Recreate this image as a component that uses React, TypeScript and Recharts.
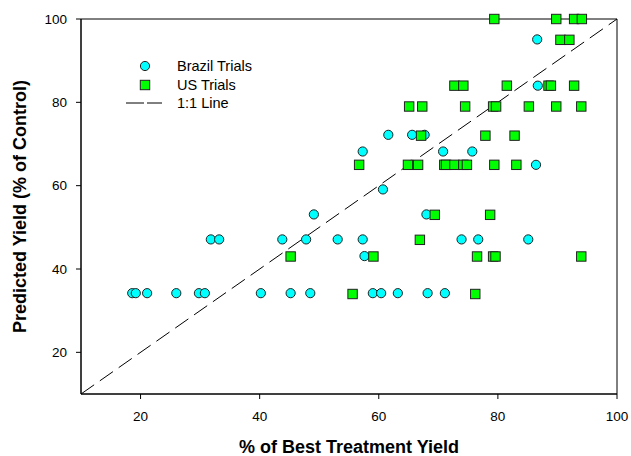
import React from 'react';
import {
  ScatterChart, Scatter, XAxis, YAxis, ReferenceLine, ReferenceArea, Legend,
} from 'recharts';

// x = % of best treatment yield, y = predicted yield (% of control)
const BRAZIL_TRIALS = [
  { x: 18.6, y: 34.2 }, { x: 19.2, y: 34.2 }, { x: 21.1, y: 34.2 }, { x: 26.0, y: 34.2 },
  { x: 29.8, y: 34.2 }, { x: 30.8, y: 34.2 }, { x: 40.2, y: 34.2 }, { x: 45.2, y: 34.2 },
  { x: 48.5, y: 34.2 }, { x: 59.0, y: 34.2 }, { x: 60.4, y: 34.2 }, { x: 63.2, y: 34.2 },
  { x: 68.2, y: 34.2 }, { x: 71.1, y: 34.2 },
  { x: 57.6, y: 43.1 },
  { x: 31.8, y: 47.1 }, { x: 33.2, y: 47.1 }, { x: 43.8, y: 47.1 }, { x: 47.8, y: 47.1 },
  { x: 53.1, y: 47.1 }, { x: 57.3, y: 47.1 }, { x: 73.9, y: 47.1 }, { x: 76.7, y: 47.1 },
  { x: 85.1, y: 47.1 },
  { x: 49.1, y: 53.1 }, { x: 68.0, y: 53.1 },
  { x: 60.7, y: 59.1 },
  { x: 65.5, y: 65.0 }, { x: 86.4, y: 65.0 },
  { x: 57.3, y: 68.2 }, { x: 70.8, y: 68.2 }, { x: 75.7, y: 68.2 },
  { x: 61.6, y: 72.2 }, { x: 65.6, y: 72.2 }, { x: 67.7, y: 72.2 },
  { x: 86.7, y: 84.0 },
  { x: 86.6, y: 95.1 },
];

const US_TRIALS = [
  { x: 55.6, y: 34.0 }, { x: 76.2, y: 34.0 },
  { x: 45.2, y: 43.0 }, { x: 59.1, y: 43.0 }, { x: 76.5, y: 43.0 }, { x: 79.2, y: 43.0 },
  { x: 79.6, y: 43.0 }, { x: 94.0, y: 43.0 },
  { x: 66.9, y: 47.0 },
  { x: 69.4, y: 53.0 }, { x: 78.7, y: 53.0 },
  { x: 56.7, y: 65.0 }, { x: 64.9, y: 65.0 }, { x: 66.6, y: 65.0 }, { x: 71.0, y: 65.0 },
  { x: 71.3, y: 65.0 }, { x: 72.7, y: 65.0 }, { x: 74.2, y: 65.0 }, { x: 74.8, y: 65.0 },
  { x: 79.4, y: 65.0 }, { x: 83.1, y: 65.0 },
  { x: 67.1, y: 72.0 }, { x: 77.9, y: 72.0 }, { x: 82.8, y: 72.0 },
  { x: 65.1, y: 79.0 }, { x: 67.3, y: 79.0 }, { x: 74.5, y: 79.0 }, { x: 79.2, y: 79.0 },
  { x: 79.7, y: 79.0 }, { x: 85.2, y: 79.0 }, { x: 89.8, y: 79.0 }, { x: 94.0, y: 79.0 },
  { x: 72.7, y: 84.0 }, { x: 74.2, y: 84.0 }, { x: 81.5, y: 84.0 }, { x: 88.5, y: 84.0 },
  { x: 88.9, y: 84.0 }, { x: 92.8, y: 84.0 },
  { x: 90.5, y: 95.0 }, { x: 92.0, y: 95.0 },
  { x: 79.4, y: 100 }, { x: 89.8, y: 100 }, { x: 92.8, y: 100 }, { x: 94.1, y: 100 },
];

const X_TICKS = [20, 40, 60, 80, 100];
const Y_TICKS = [20, 40, 60, 80, 100];
const ONE_TO_ONE = [{ x: 10, y: 10 }, { x: 100, y: 100 }];

const CYAN = '#00FFFF';
const GREEN = '#00FF00';
const OUTLINE = '#222';

const CircleDot = (props: any) => (
  <circle cx={props.cx} cy={props.cy} r={4.6} fill={CYAN} stroke={OUTLINE} strokeWidth={1} />
);

const SquareDot = (props: any) => (
  <rect x={props.cx - 4.7} y={props.cy - 4.7} width={9.4} height={9.4} fill={GREEN} stroke={OUTLINE} strokeWidth={1} />
);

const LEGEND_ITEMS = [
  { label: 'Brazil Trials', kind: 'circle' },
  { label: 'US Trials', kind: 'square' },
  { label: '1:1 Line', kind: 'line' },
];

const renderLegend = () => (
  <div style={{ fontSize: 14.5, color: '#000' }}>
    {LEGEND_ITEMS.map((item) => (
      <div key={item.label} style={{ display: 'flex', alignItems: 'center', height: 18.5 }}>
        <svg width={50} height={18}>
          {item.kind === 'circle' && <CircleDot cx={25} cy={9} />}
          {item.kind === 'square' && <SquareDot cx={25} cy={9} />}
          {item.kind === 'line' && (
            <line x1={6} y1={9} x2={42} y2={9} stroke="#000" strokeWidth={1} strokeDasharray="18 3" />
          )}
        </svg>
        <span style={{ marginLeft: 7 }}>{item.label}</span>
      </div>
    ))}
  </div>
);

const XTitle = ({ viewBox }: any) => (
  <text x={viewBox.x + viewBox.width / 2} y={viewBox.y + viewBox.height - 3}
    textAnchor="middle" fontSize={18} fontWeight="bold" fill="#000">
    % of Best Treatment Yield
  </text>
);

const YTitle = ({ viewBox }: any) => {
  const cx = 20;
  const cy = viewBox.y + viewBox.height / 2;
  return (
    <text x={cx} y={cy} dy="0.35em" transform={`rotate(-90, ${cx}, ${cy})`}
      textAnchor="middle" fontSize={18} fontWeight="bold" fill="#000">
      Predicted Yield (% of Control)
    </text>
  );
};

export default function App() {
  return (
    <div style={{ position: 'absolute', left: 0, top: 0, fontFamily: '"Liberation Sans", Arial, sans-serif', background: '#fff' }}>
      <ScatterChart width={631} height={456} margin={{ top: 19, right: 14, bottom: 0, left: 0 }}>
        <XAxis type="number" dataKey="x" domain={[10, 100]} ticks={X_TICKS} height={62}
          tickSize={5} tickMargin={12} tick={{ fill: '#000', fontSize: 13.5 }}
          axisLine={{ stroke: '#000' }} tickLine={{ stroke: '#000' }} label={<XTitle />} />
        <YAxis type="number" dataKey="y" domain={[10, 100]} ticks={Y_TICKS} width={81}
          tickSize={5} tickMargin={9} tick={{ fill: '#000', fontSize: 13.5 }}
          axisLine={{ stroke: '#000' }} tickLine={{ stroke: '#000' }} label={<YTitle />} />
        <ReferenceArea x1={10} x2={100} y1={10} y2={100} fill="none" stroke="#000" strokeWidth={1} ifOverflow="visible" />
        <ReferenceLine segment={ONE_TO_ONE} stroke="#000" strokeWidth={1} strokeDasharray="16 7" />
        <Scatter name="Brazil Trials" data={BRAZIL_TRIALS} shape={CircleDot} isAnimationActive={false} />
        <Scatter name="US Trials" data={US_TRIALS} shape={SquareDot} isAnimationActive={false} />
        <Legend layout="vertical" align="center" verticalAlign="middle" content={renderLegend}
          wrapperStyle={{ left: 120, top: 57, width: 'auto' }} />
      </ScatterChart>
    </div>
  );
}
